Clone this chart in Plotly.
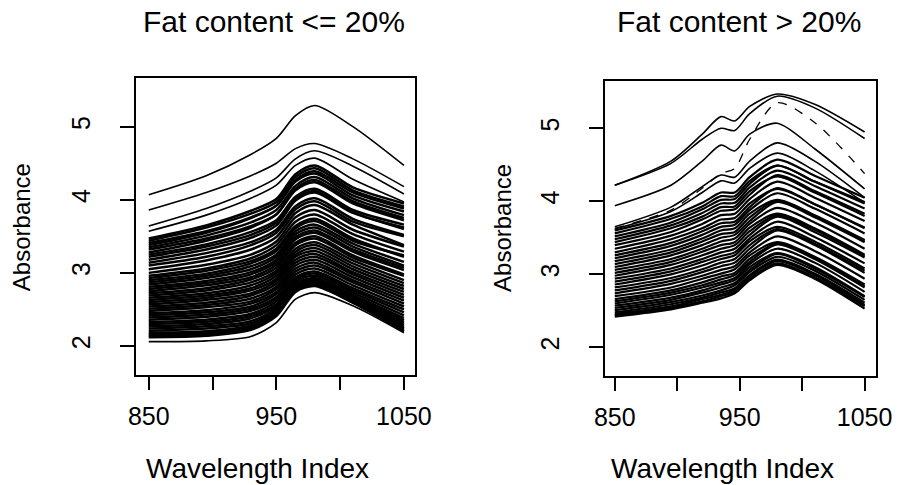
import plotly.graph_objects as go

# ---------------- data ----------------
LEFT_TITLE = "Fat content <= 20%"
RIGHT_TITLE = "Fat content > 20%"
X_TITLE = "Wavelength Index"
Y_TITLE = "Absorbance"

X_TICKS = [850, 900, 950, 1000, 1050]
X_TICK_LABELS = ["850", "", "950", "", "1050"]
Y_TICKS = [2, 3, 4, 5]
Y_TICK_LABELS = ["2", "3", "4", "5"]

LEFT_WAVELENGTHS = [850, 895, 930, 950, 965, 980, 1010, 1050]
# separated upper curves
LEFT_UPPER = [
    [4.07, 4.33, 4.62, 4.84, 5.15, 5.29, 5.00, 4.47],
    [3.86, 4.10, 4.33, 4.50, 4.70, 4.77, 4.56, 4.18],
    [3.64, 3.88, 4.12, 4.30, 4.56, 4.67, 4.46, 4.08],
    [3.57, 3.79, 4.02, 4.20, 4.47, 4.57, 4.28, 3.97],
]
# dense bundle
LEFT_BUNDLE = [
    [3.47, 3.65, 3.85, 4.01, 4.35, 4.47, 4.17, 3.95],
    [3.44, 3.62, 3.81, 3.97, 4.31, 4.43, 4.13, 3.91],
    [3.41, 3.57, 3.76, 3.92, 4.25, 4.36, 4.06, 3.84],
    [3.38, 3.55, 3.75, 3.92, 4.27, 4.39, 4.10, 3.88],
    [3.35, 3.51, 3.69, 3.86, 4.19, 4.31, 4.02, 3.79],
    [3.32, 3.47, 3.64, 3.80, 4.13, 4.24, 3.95, 3.72],
    [3.28, 3.44, 3.62, 3.80, 4.15, 4.27, 3.98, 3.75],
    [3.25, 3.39, 3.56, 3.72, 4.04, 4.15, 3.86, 3.66],
    [3.22, 3.36, 3.52, 3.69, 4.01, 4.12, 3.83, 3.60],
    [3.18, 3.32, 3.48, 3.65, 3.99, 4.10, 3.82, 3.62],
    [3.14, 3.27, 3.42, 3.59, 3.91, 4.02, 3.74, 3.52],
    [3.10, 3.22, 3.38, 3.55, 3.87, 3.98, 3.70, 3.50],
    [3.05, 3.17, 3.32, 3.49, 3.82, 3.93, 3.66, 3.38],
    [3.00, 3.11, 3.25, 3.43, 3.76, 3.86, 3.59, 3.36],
    [2.96, 3.06, 3.20, 3.38, 3.70, 3.80, 3.53, 3.29],
    [2.93, 3.03, 3.16, 3.33, 3.64, 3.74, 3.47, 3.22],
    [2.90, 2.99, 3.13, 3.30, 3.61, 3.71, 3.44, 3.24],
    [2.87, 2.96, 3.09, 3.25, 3.57, 3.66, 3.40, 3.15],
    [2.84, 2.93, 3.05, 3.22, 3.53, 3.62, 3.36, 3.10],
    [2.81, 2.89, 3.01, 3.18, 3.49, 3.58, 3.32, 3.07],
    [2.78, 2.86, 2.98, 3.15, 3.46, 3.55, 3.29, 3.04],
    [2.75, 2.83, 2.94, 3.11, 3.41, 3.50, 3.24, 2.98],
    [2.72, 2.79, 2.91, 3.07, 3.38, 3.47, 3.21, 2.96],
    [2.69, 2.76, 2.87, 3.03, 3.33, 3.42, 3.17, 2.90],
    [2.66, 2.72, 2.83, 3.00, 3.29, 3.38, 3.13, 2.86],
    [2.63, 2.69, 2.79, 2.96, 3.25, 3.34, 3.09, 2.82],
    [2.60, 2.66, 2.76, 2.92, 3.22, 3.30, 3.05, 2.78],
    [2.57, 2.63, 2.72, 2.89, 3.18, 3.26, 3.01, 2.74],
    [2.54, 2.59, 2.69, 2.85, 3.14, 3.22, 2.98, 2.70],
    [2.51, 2.56, 2.65, 2.81, 3.10, 3.18, 2.94, 2.66],
    [2.48, 2.53, 2.61, 2.78, 3.06, 3.14, 2.90, 2.62],
    [2.45, 2.49, 2.58, 2.74, 3.02, 3.10, 2.87, 2.58],
    [2.42, 2.46, 2.54, 2.71, 2.98, 3.06, 2.83, 2.54],
    [2.39, 2.43, 2.51, 2.67, 2.94, 3.02, 2.79, 2.50],
    [2.36, 2.40, 2.48, 2.64, 2.91, 2.99, 2.76, 2.46],
    [2.33, 2.36, 2.44, 2.61, 2.88, 2.96, 2.73, 2.42],
    [2.30, 2.33, 2.41, 2.57, 2.85, 2.93, 2.70, 2.38],
    [2.27, 2.30, 2.38, 2.55, 2.83, 2.91, 2.68, 2.35],
    [2.24, 2.27, 2.34, 2.52, 2.81, 2.89, 2.66, 2.32],
    [2.21, 2.24, 2.31, 2.49, 2.79, 2.87, 2.64, 2.29],
    [2.18, 2.20, 2.28, 2.46, 2.77, 2.85, 2.62, 2.26],
    [2.16, 2.18, 2.26, 2.45, 2.76, 2.84, 2.61, 2.24],
    [2.14, 2.16, 2.24, 2.43, 2.75, 2.83, 2.60, 2.22],
    [2.12, 2.14, 2.22, 2.41, 2.74, 2.82, 2.59, 2.20],
]
LEFT_LOWEST = [2.06, 2.07, 2.13, 2.32, 2.64, 2.73, 2.55, 2.18]

RIGHT_WAVELENGTHS = [850, 895, 920, 935, 946, 958, 980, 1010, 1050]
RIGHT_UPPER = [
    [4.22, 4.55, 4.92, 5.16, 5.10, 5.30, 5.47, 5.33, 4.95],
    [4.22, 4.52, 4.85, 5.00, 4.97, 5.20, 5.44, 5.28, 4.86],
    [3.94, 4.22, 4.55, 4.77, 4.69, 4.92, 5.07, 4.72, 4.17],
    [3.65, 3.92, 4.20, 4.36, 4.33, 4.55, 4.80, 4.55, 4.05],
    [3.62, 3.86, 4.12, 4.28, 4.25, 4.45, 4.66, 4.42, 3.98],
]
RIGHT_BUNDLE = [
    [3.60, 3.80, 3.98, 4.12, 4.12, 4.33, 4.57, 4.35, 4.05],
    [3.56, 3.76, 3.93, 4.07, 4.07, 4.28, 4.49, 4.27, 3.97],
    [3.52, 3.71, 3.89, 4.02, 4.03, 4.24, 4.49, 4.27, 3.99],
    [3.48, 3.67, 3.84, 3.97, 3.98, 4.19, 4.42, 4.21, 3.90],
    [3.44, 3.63, 3.79, 3.92, 3.93, 4.14, 4.34, 4.12, 3.80],
    [3.40, 3.58, 3.75, 3.87, 3.89, 4.09, 4.36, 4.14, 3.83],
    [3.35, 3.53, 3.69, 3.81, 3.83, 4.03, 4.27, 4.05, 3.73],
    [3.30, 3.48, 3.63, 3.75, 3.77, 3.97, 4.17, 3.96, 3.63],
    [3.26, 3.43, 3.59, 3.70, 3.72, 3.92, 4.18, 3.96, 3.64],
    [3.22, 3.39, 3.54, 3.65, 3.68, 3.88, 4.11, 3.90, 3.56],
    [3.18, 3.34, 3.49, 3.60, 3.63, 3.83, 4.02, 3.81, 3.47],
    [3.14, 3.30, 3.45, 3.55, 3.58, 3.78, 4.01, 3.80, 3.46],
    [3.10, 3.26, 3.40, 3.50, 3.54, 3.73, 3.99, 3.78, 3.44],
    [3.06, 3.21, 3.35, 3.45, 3.49, 3.69, 3.91, 3.71, 3.35],
    [3.02, 3.17, 3.31, 3.40, 3.44, 3.64, 3.83, 3.63, 3.27],
    [2.98, 3.13, 3.26, 3.35, 3.40, 3.59, 3.81, 3.61, 3.25],
    [2.94, 3.08, 3.21, 3.30, 3.35, 3.54, 3.79, 3.58, 3.23],
    [2.90, 3.04, 3.17, 3.25, 3.30, 3.49, 3.72, 3.51, 3.15],
    [2.86, 3.00, 3.12, 3.21, 3.26, 3.45, 3.65, 3.45, 3.08],
    [2.82, 2.95, 3.07, 3.16, 3.21, 3.40, 3.62, 3.42, 3.05],
    [2.78, 2.91, 3.03, 3.11, 3.16, 3.35, 3.60, 3.40, 3.02],
    [2.74, 2.87, 2.98, 3.06, 3.11, 3.30, 3.52, 3.32, 2.94],
    [2.70, 2.82, 2.94, 3.01, 3.07, 3.26, 3.44, 3.24, 2.86],
    [2.66, 2.78, 2.89, 2.97, 3.02, 3.21, 3.42, 3.23, 2.84],
    [2.63, 2.75, 2.85, 2.93, 2.99, 3.17, 3.41, 3.21, 2.82],
    [2.60, 2.72, 2.82, 2.89, 2.95, 3.14, 3.35, 3.16, 2.76],
    [2.57, 2.68, 2.78, 2.86, 2.92, 3.10, 3.29, 3.10, 2.70],
    [2.54, 2.65, 2.75, 2.82, 2.88, 3.06, 3.28, 3.08, 2.69],
    [2.51, 2.62, 2.71, 2.78, 2.85, 3.03, 3.24, 3.05, 2.65],
    [2.48, 2.59, 2.68, 2.75, 2.81, 2.99, 3.20, 3.01, 2.61],
    [2.46, 2.56, 2.66, 2.72, 2.79, 2.97, 3.18, 2.99, 2.58],
    [2.44, 2.54, 2.63, 2.70, 2.76, 2.94, 3.15, 2.96, 2.56],
    [2.42, 2.52, 2.61, 2.67, 2.74, 2.92, 3.13, 2.94, 2.53],
]
RIGHT_DASHED_SPECTRUM = [3.63, 3.88, 4.18, 4.38, 4.45, 4.85, 5.35, 5.08, 4.38]

# ---------------- figure ----------------
W, H = 911, 485
FONT = "Liberation Sans, Arial, Helvetica, sans-serif"

fig = go.Figure()

def add_curve(xs, ys, xa, ya, width, dash="solid"):
    fig.add_trace(go.Scatter(x=xs, y=ys, mode="lines",
                             line=dict(color="black", width=width, dash=dash,
                                       shape="spline", smoothing=0.8),
                             xaxis=xa, yaxis=ya, showlegend=False, hoverinfo="skip"))

for spec in LEFT_BUNDLE:
    add_curve(LEFT_WAVELENGTHS, spec, "x", "y", 2.5)
for spec in LEFT_UPPER:
    add_curve(LEFT_WAVELENGTHS, spec, "x", "y", 1.6)
add_curve(LEFT_WAVELENGTHS, LEFT_LOWEST, "x", "y", 1.6)

for spec in RIGHT_BUNDLE:
    add_curve(RIGHT_WAVELENGTHS, spec, "x2", "y2", 2.2)
for spec in RIGHT_UPPER:
    add_curve(RIGHT_WAVELENGTHS, spec, "x2", "y2", 1.6)
add_curve(RIGHT_WAVELENGTHS, RIGHT_DASHED_SPECTRUM, "x2", "y2", 1.3, dash="dash")

axis_common = dict(showgrid=False, zeroline=False, showline=True, mirror=True,
                   linecolor="black", linewidth=1.6, ticks="outside", tickcolor="black",
                   tickwidth=1.5, tickfont=dict(family=FONT, size=25, color="black"))

def px_x(p):
    return p / W

def px_y(p):
    return 1 - p / H

fig.update_layout(
    width=W, height=H,
    margin=dict(l=0, r=0, t=0, b=0),
    paper_bgcolor="white", plot_bgcolor="white",
    xaxis=dict(domain=[px_x(130), px_x(417)], range=[840.1, 1058.4],
               tickvals=X_TICKS, ticktext=X_TICK_LABELS, ticklen=13,
               ticklabelstandoff=5, anchor="y", **axis_common),
    yaxis=dict(domain=[px_y(375), px_y(78)], range=[1.603, 5.666],
               tickvals=Y_TICKS, ticktext=Y_TICK_LABELS, ticklen=14, tickangle=-90,
               ticklabelstandoff=20, anchor="x", **axis_common),
    xaxis2=dict(domain=[px_x(612.7), px_x(892.3)], range=[841.8, 1059.0],
                tickvals=X_TICKS, ticktext=X_TICK_LABELS, ticklen=13,
                ticklabelstandoff=5, anchor="y2", **axis_common),
    yaxis2=dict(domain=[px_y(376), px_y(80.7)], range=[1.607, 5.652],
                tickvals=Y_TICKS, ticktext=Y_TICK_LABELS, ticklen=14, tickangle=-90,
                ticklabelstandoff=20, anchor="x2", **axis_common),
)

def ann(text, x, y, size, angle=0):
    fig.add_annotation(text=text, x=px_x(x), y=px_y(y), xref="paper", yref="paper",
                       xanchor="center", yanchor="middle", showarrow=False, textangle=angle,
                       font=dict(family=FONT, size=size, color="black"))

ann(LEFT_TITLE, 272.5, 22, 30)
ann(RIGHT_TITLE, 751, 22, 30)
ann(X_TITLE, 255, 468, 28)
ann(X_TITLE, 734, 468, 28)
ann(Y_TITLE, 12, 227.5, 24, -90)
ann(Y_TITLE, 507, 228, 24, -90)

fig.write_html("out.html")
